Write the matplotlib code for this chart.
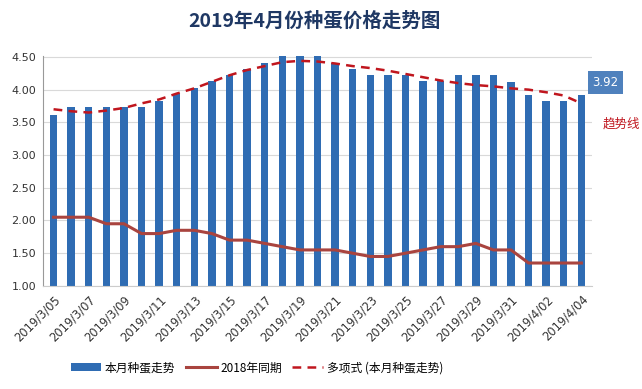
import numpy as np
import matplotlib as mpl
mpl.use('Agg')
import matplotlib.pyplot as plt

plt.rcParams['font.family'] = ['Noto Sans CJK SC', 'DejaVu Sans']

# 2019/3/05 .. 2019/4/04
dates = ['2019/3/%02d' % d for d in range(5, 32)] + ['2019/4/%02d' % d for d in range(1, 5)]
price_2019 = [3.62, 3.73, 3.73, 3.73, 3.73, 3.73, 3.82, 3.93, 4.02, 4.13,
              4.22, 4.31, 4.41, 4.51, 4.51, 4.51, 4.41, 4.31, 4.22, 4.22,
              4.22, 4.13, 4.13, 4.22, 4.22, 4.22, 4.11, 3.92, 3.82, 3.82,
              3.92]
price_2018 = [2.05, 2.05, 2.05, 1.95, 1.95, 1.80, 1.80, 1.85, 1.85, 1.80,
              1.70, 1.70, 1.65, 1.60, 1.55, 1.55, 1.55, 1.50, 1.45, 1.45,
              1.50, 1.55, 1.60, 1.60, 1.65, 1.55, 1.55, 1.35, 1.35, 1.35,
              1.35]
trend = [3.70, 3.67, 3.65, 3.68, 3.72, 3.79, 3.85, 3.94, 4.02, 4.12,
         4.22, 4.30, 4.36, 4.42, 4.44, 4.43, 4.40, 4.36, 4.33, 4.29,
         4.24, 4.19, 4.14, 4.10, 4.07, 4.05, 4.02, 4.00, 3.96, 3.91,
         3.79]
yticks = [1.0, 1.5, 2.0, 2.5, 3.0, 3.5, 4.0, 4.5]

fig = plt.figure(figsize=(6.42, 3.89), dpi=100)
ax = fig.add_axes([0.067, 0.265, 0.855, 0.592])

x = np.arange(len(dates))
bars = ax.bar(x, [v - 1.0 for v in price_2019], bottom=1.0, width=0.42,
              color='#2f6cb3', zorder=2)
line18, = ax.plot(x, price_2018, color='#a9443f', linewidth=2.2, zorder=3)
trendline, = ax.plot(x, trend, color='#c0161e', linewidth=1.8, linestyle=(0, (3.5, 2.5)),
                     zorder=4)

ax.set_xlim(-0.6, len(dates) - 0.4)
ax.set_ylim(1.0, 4.52)
ax.set_yticks(yticks)
ax.set_yticklabels(['%.2f' % v for v in yticks], fontsize=8, color='#333333',
                   family=['DejaVu Sans'])
ax.set_xticks(x[::2])
ax.set_xticklabels(dates[::2], rotation=45, ha='right', rotation_mode='anchor',
                   fontsize=8.3, color='#333333', family=['DejaVu Sans'])
ax.tick_params(length=0, pad=5)
ax.grid(axis='y', color='#d9d9d9', linewidth=0.8, zorder=0)
for s in ['top', 'right']:
    ax.spines[s].set_visible(False)
ax.spines['left'].set_color('#999999')
ax.spines['bottom'].set_color('#cccccc')

# last value label and trend note
ax.annotate('%.2f' % price_2019[-1], xy=(x[-1], price_2019[-1]), xytext=(8, 9),
            textcoords='offset points', fontsize=8.5, color='white', ha='left', va='center',
            family=['DejaVu Sans'],
            bbox=dict(boxstyle='square,pad=0.4', fc='#4f81bd', ec='none'))
fig.text(0.938, 0.68, '趋势线', fontsize=9, color='#c0161e', ha='left', va='center')

fig.suptitle('2019年4月份种蛋价格走势图', x=0.49, y=0.97, fontsize=14,
             fontweight='bold', color='#1f3864')

fig.legend([bars, line18, trendline], ['本月种蛋走势', '2018年同期', '多项式 (本月种蛋走势)'],
           loc='lower center', bbox_to_anchor=(0.40, 0.01), ncol=3, frameon=False,
           fontsize=8.5, handlelength=2.6, columnspacing=0.9, handletextpad=0.3)

fig.savefig('out.png', dpi=100)
